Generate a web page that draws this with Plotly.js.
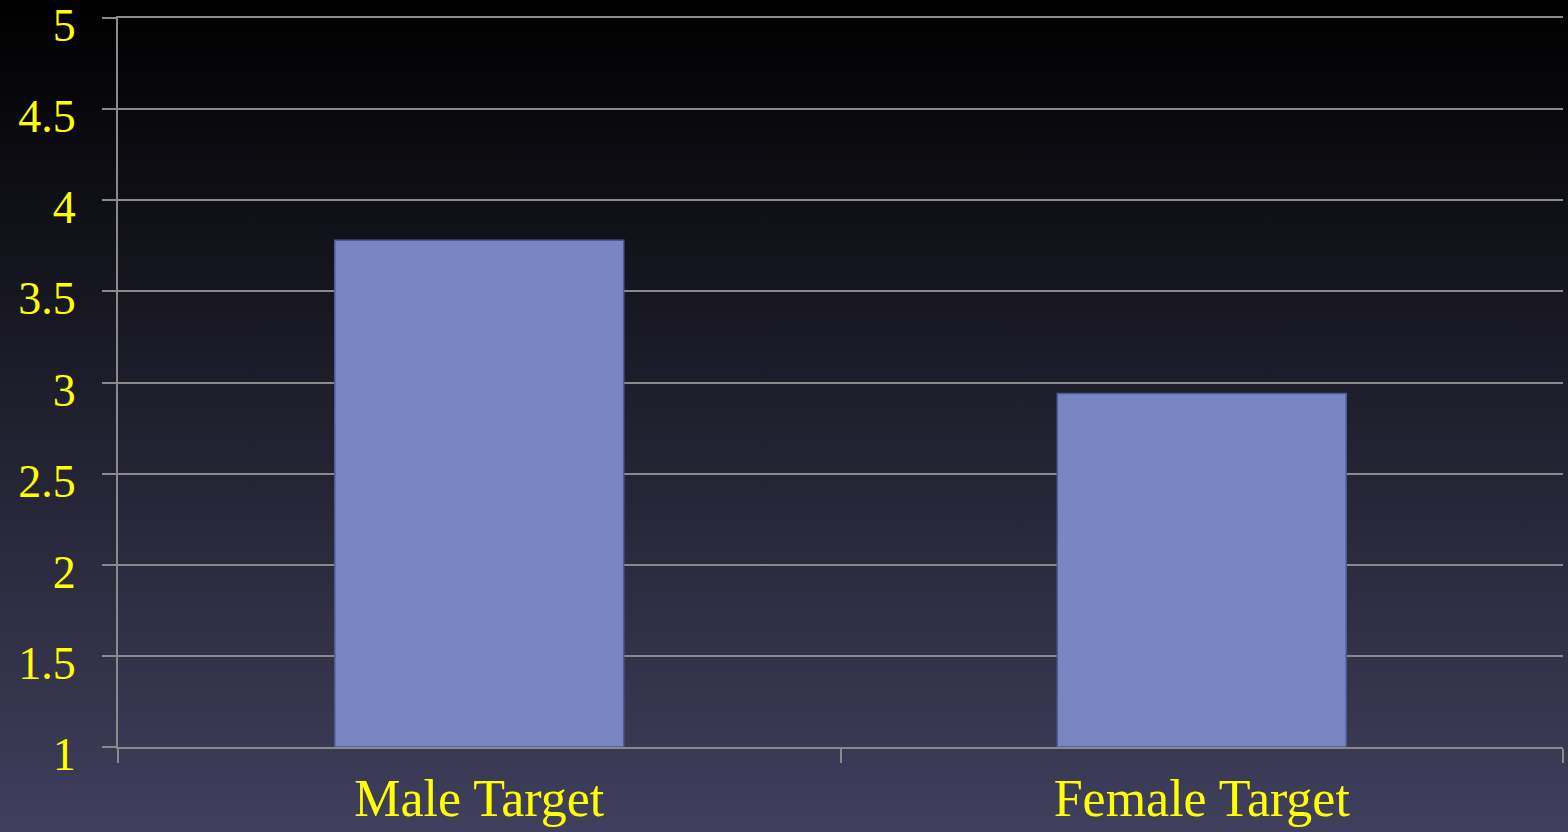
<!DOCTYPE html>
<html>
<head>
<meta charset="utf-8">
<script src="https://cdn.plot.ly/plotly-3.0.1.min.js"></script>
<style>
html, body { margin: 0; padding: 0; width: 1568px; height: 832px; overflow: hidden;
  background: linear-gradient(to bottom, #000000 0%, #403f5d 100%); }
#chart { width: 1568px; height: 832px; }
</style>
</head>
<body>
<div id="chart"></div>
<script>
const categories = ["Male Target", "Female Target"];
const values = [3.78, 2.94];
const yBase = 1;
const yRange = [1, 5];
const yTickVals = [1, 1.5, 2, 2.5, 3, 3.5, 4, 4.5, 5];
const yTickText = ["1", "1.5", "2", "2.5", "3", "3.5", "4", "4.5", "5"];

const serif = "Liberation Serif, DejaVu Serif, serif";
const plotH = 832 - 18 - 78;      // plot area height in px
const labelDrop = 7 / plotH;      // labels sit a few px below their gridlines

const bars = {
  type: "bar",
  x: categories,
  y: values.map(v => v - yBase),
  base: yBase,
  xaxis: "x", yaxis: "y",
  marker: { color: "#7887c2", line: { color: "#4c5b92", width: 1.5 } },
  hoverinfo: "skip"
};
// empty trace only to make the label axis exist
const labelAxisHolder = { type: "scatter", x: [], y: [], xaxis: "x", yaxis: "y2", hoverinfo: "skip", showlegend: false };

const layout = {
  width: 1568, height: 832,
  paper_bgcolor: "rgba(0,0,0,0)",
  plot_bgcolor: "rgba(0,0,0,0)",
  margin: { l: 118, r: 5, t: 18, b: 78 },
  bargap: 0.6,
  showlegend: false,
  font: { family: serif, color: "#ffff00" },
  xaxis: {
    type: "category",
    anchor: "y",
    showline: true, mirror: true, linecolor: "#8a8a8a", linewidth: 2,
    ticks: "outside", tickson: "boundaries", ticklen: 14, tickwidth: 2, tickcolor: "#8a8a8a",
    tickfont: { size: 52, color: "#ffff00", family: serif },
    ticklabelstandoff: 5,
    showgrid: false
  },
  yaxis: {
    domain: [labelDrop, 1],
    range: yRange,
    tickvals: yTickVals,
    showticklabels: false,
    showline: true, linecolor: "#8a8a8a", linewidth: 2,
    ticks: "outside", ticklen: 14, tickwidth: 2, tickcolor: "#8a8a8a",
    showgrid: true, gridcolor: "#8a8a8a", gridwidth: 2,
    zeroline: false
  },
  yaxis2: {
    domain: [0, 1 - labelDrop],
    anchor: "x",
    side: "left",
    range: yRange,
    tickvals: yTickVals, ticktext: yTickText,
    showline: false, showgrid: false, zeroline: false,
    ticks: "outside", ticklen: 14, tickcolor: "rgba(0,0,0,0)",
    tickfont: { size: 46, color: "#ffff00", family: serif },
    ticklabelstandoff: 18,
    ticklabeloverflow: "allow"
  }
};

Plotly.newPlot("chart", [bars, labelAxisHolder], layout, { displayModeBar: false, staticPlot: true });
</script>
</body>
</html>
